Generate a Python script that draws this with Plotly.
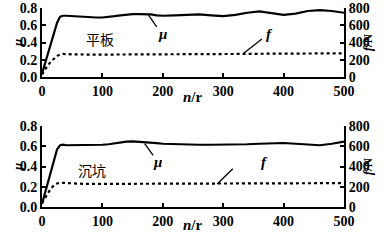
import plotly.graph_objects as go

# ---- data ----
n_top = [0, 5, 10, 15, 20, 25, 30, 35, 40, 50, 60, 70, 80, 90, 100, 110, 120, 130, 140, 150,
         160, 170, 180, 190, 200, 220, 240, 260, 280, 300, 320, 340, 360, 380, 400, 420, 440,
         460, 480, 500]
mu_top = [0.04, 0.16, 0.28, 0.40, 0.52, 0.63, 0.70, 0.71, 0.71, 0.705, 0.70, 0.70, 0.695, 0.69,
          0.69, 0.695, 0.705, 0.715, 0.725, 0.73, 0.73, 0.73, 0.725, 0.715, 0.71, 0.715, 0.72,
          0.725, 0.715, 0.705, 0.72, 0.745, 0.76, 0.74, 0.72, 0.735, 0.765, 0.775, 0.765, 0.745]
f_top = [30, 90, 140, 180, 215, 245, 262, 268, 265, 262, 262, 261, 260, 260, 260, 261, 262,
         262, 262, 262, 262, 262, 262, 262, 262, 263, 264, 264, 263, 262, 265, 268, 270, 270,
         268, 270, 272, 275, 276, 275]

n_bot = n_top
mu_bot = [0.03, 0.14, 0.26, 0.37, 0.48, 0.57, 0.61, 0.615, 0.61, 0.61, 0.61, 0.61, 0.61, 0.612,
          0.615, 0.62, 0.63, 0.64, 0.645, 0.648, 0.645, 0.64, 0.635, 0.63, 0.625, 0.62, 0.615,
          0.615, 0.615, 0.615, 0.618, 0.62, 0.625, 0.63, 0.632, 0.625, 0.615, 0.61, 0.625, 0.645]
f_bot = [40, 90, 140, 185, 215, 232, 240, 238, 234, 230, 228, 228, 228, 228, 229, 229, 230,
         230, 230, 230, 231, 231, 231, 231, 231, 231, 232, 232, 232, 232, 233, 233, 233, 234,
         234, 234, 235, 235, 236, 236]

x_ticks = [0, 100, 200, 300, 400, 500]
mu_ticks = [0.0, 0.2, 0.4, 0.6, 0.8]
f_ticks = [0, 200, 400, 600, 800]

FONT = "Liberation Serif"

fig = go.Figure()
line_mu = dict(color="black", width=2.2)
line_f = dict(color="black", width=2.2, dash="3px,3px")

fig.add_trace(go.Scatter(x=n_top, y=mu_top, mode="lines", line=line_mu, xaxis="x", yaxis="y"))
fig.add_trace(go.Scatter(x=n_top, y=f_top, mode="lines", line=line_f, xaxis="x", yaxis="y3"))
fig.add_trace(go.Scatter(x=n_bot, y=mu_bot, mode="lines", line=line_mu, xaxis="x2", yaxis="y2"))
fig.add_trace(go.Scatter(x=n_bot, y=f_bot, mode="lines", line=line_f, xaxis="x2", yaxis="y4"))

tickfont = dict(family=FONT, size=14, color="black")
base = dict(showline=True, linecolor="black", linewidth=2, ticks="inside", ticklen=4,
            tickwidth=1.5, tickcolor="black", showgrid=False, zeroline=False,
            tickfont=tickfont, automargin=False, ticklabeloverflow="allow")
common_x = dict(base, range=[0, 500], tickvals=x_ticks,
                ticktext=[f"<b>{v}</b>" for v in x_ticks])
common_mu = dict(base, range=[0, 0.8], tickvals=mu_ticks,
                 ticktext=[f"<b>{v:.1f}</b>" for v in mu_ticks])
common_f = dict(base, range=[0, 800], tickvals=f_ticks,
                ticktext=[f"<b>{v}</b>" for v in f_ticks], side="right")

top_dom = [0.653, 1.0]
bot_dom = [0.0, 0.407]

fig.update_layout(
    width=391, height=244,
    margin=dict(l=42, r=47, t=8, b=37, autoexpand=False),
    paper_bgcolor="white", plot_bgcolor="white",
    showlegend=False,
    xaxis=dict(common_x, domain=[0, 1], anchor="y"),
    yaxis=dict(common_mu, domain=top_dom, anchor="x"),
    xaxis2=dict(common_x, domain=[0, 1], anchor="y2"),
    yaxis2=dict(common_mu, domain=bot_dom, anchor="x2"),
    yaxis3=dict(common_f, overlaying="y", anchor="x"),
    yaxis4=dict(common_f, overlaying="y2", anchor="x2"),
)

ann_font = dict(family=FONT, size=15, color="black")
side_font = dict(family=FONT, size=13, color="black")
annotations = [
    # axis titles
    dict(text="<b><i>n</i>/r</b>", xref="x domain", yref="y domain", x=0.5, y=-0.44,
         showarrow=False, font=ann_font),
    dict(text="<b><i>n</i>/r</b>", xref="x2 domain", yref="y2 domain", x=0.5, y=-0.35,
         showarrow=False, font=ann_font),
    dict(text="<b><i>μ</i></b>", xref="paper", yref="y domain", x=-0.113, y=0.5,
         showarrow=False, textangle=-90, font=side_font),
    dict(text="<b><i>μ</i></b>", xref="paper", yref="y2 domain", x=-0.113, y=0.5,
         showarrow=False, textangle=-90, font=side_font),
    dict(text="<b><i>f</i>/N</b>", xref="paper", yref="y domain", x=1.11, y=0.5,
         showarrow=False, textangle=-90, font=side_font),
    dict(text="<b><i>f</i>/N</b>", xref="paper", yref="y2 domain", x=1.11, y=0.5,
         showarrow=False, textangle=-90, font=side_font),
    # labels in panels
    dict(text="平板", xref="x", yref="y", x=96, y=0.44, showarrow=False,
         font=dict(family="Noto Sans CJK SC", size=14, color="black")),
    dict(text="沉坑", xref="x2", yref="y2", x=83, y=0.365, showarrow=False,
         font=dict(family="Noto Sans CJK SC", size=14, color="black")),
    dict(text="<b><i>μ</i></b>", xref="x", yref="y", x=200, y=0.5, showarrow=False, font=ann_font),
    dict(text="<b><i>μ</i></b>", xref="x2", yref="y2", x=192, y=0.44, showarrow=False, font=ann_font),
    dict(text="<b><i>f</i></b>", xref="x", yref="y3", x=376, y=500, showarrow=False, font=ann_font),
    dict(text="<b><i>f</i></b>", xref="x2", yref="y4", x=368, y=440, showarrow=False, font=ann_font),
]
fig.update_layout(annotations=annotations)

# leader lines
shapes = [
    dict(type="line", xref="x", yref="y", x0=176, y0=0.72, x1=190, y1=0.58,
         line=dict(color="black", width=1.3)),
    dict(type="line", xref="x", yref="y3", x0=333, y0=270, x1=364, y1=440,
         line=dict(color="black", width=1.3)),
    dict(type="line", xref="x2", yref="y2", x0=170, y0=0.625, x1=184, y1=0.51,
         line=dict(color="black", width=1.3)),
    dict(type="line", xref="x2", yref="y4", x0=290, y0=228, x1=316, y1=378,
         line=dict(color="black", width=1.3)),
]
fig.update_layout(shapes=shapes)

fig.write_html("out.html")
